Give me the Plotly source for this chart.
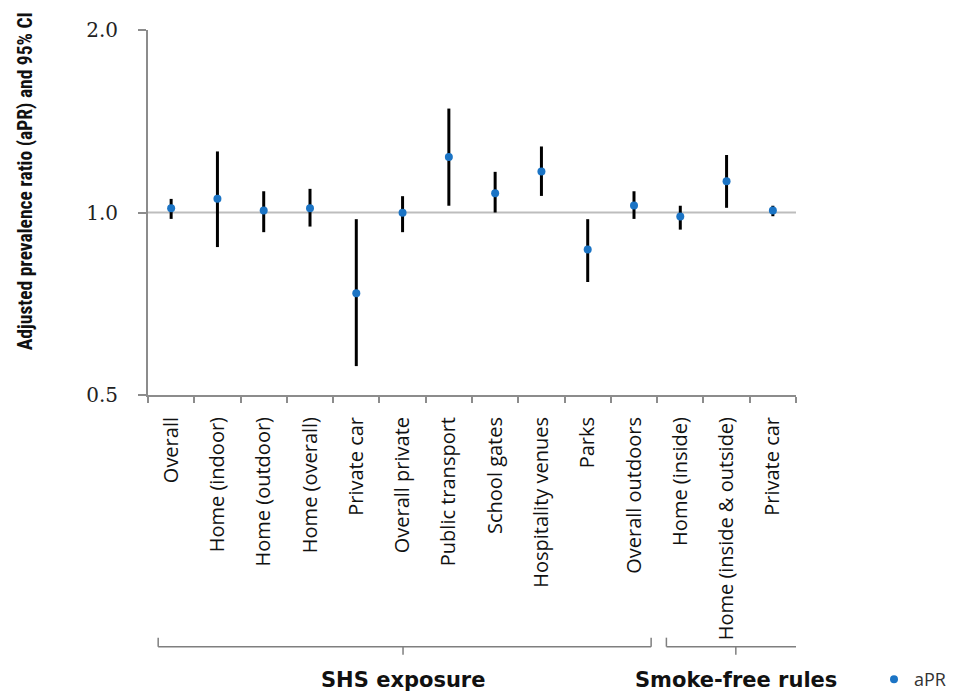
import plotly.graph_objects as go

categories = ["Overall", "Home (indoor)", "Home (outdoor)", "Home (overall)", "Private car",
              "Overall private", "Public transport", "School gates", "Hospitality venues", "Parks",
              "Overall outdoors", "Home (inside)", "Home (inside & outside)", "Private car"]
apr = [1.016, 1.054, 1.008, 1.016, 0.736, 0.999, 1.235, 1.076, 1.168, 0.869, 1.027, 0.985, 1.126, 1.008]
ci_low = [0.976, 0.877, 0.928, 0.948, 0.558, 0.928, 1.026, 1.000, 1.065, 0.768, 0.976, 0.937, 1.018, 0.986]
ci_high = [1.053, 1.261, 1.084, 1.094, 0.975, 1.064, 1.484, 1.167, 1.285, 0.975, 1.084, 1.026, 1.244, 1.026]
y_ticks = [0.5, 1.0, 2.0]
y_ticktext = ["0.5", "1.0", "2.0"]
groups = ["SHS exposure", "Smoke-free rules"]
group_start = [-0.28, 10.7]
group_end = [10.37, 13.7]
group_mid = [5.01, 12.2]

xs = list(range(len(categories)))

fig = go.Figure()
fig.add_trace(go.Scatter(
    x=xs, y=apr, mode="markers", name="aPR",
    marker=dict(color="#1b74c5", size=8),
    error_y=dict(type="data", symmetric=False,
                 array=[h - v for h, v in zip(ci_high, apr)],
                 arrayminus=[v - l for v, l in zip(apr, ci_low)],
                 color="black", thickness=3, width=0),
))

# reference line at 1.0
fig.add_shape(type="line", xref="paper", yref="y", x0=0, x1=1, y0=1.0, y1=1.0,
              line=dict(color="#bdbdbd", width=2), layer="below")

PH = 365.5
def py(p):
    return (395 - p) / PH

def pxp(p):
    return (p - 148) / 648

bracket_color = "#7f7f7f"
for g, s, e, m in zip(groups, group_start, group_end, group_mid):
    yb = py(647)
    fig.add_shape(type="line", xref="x", yref="paper", x0=s, x1=e, y0=yb, y1=yb,
                  line=dict(color=bracket_color, width=1.5))
    for xe in (s, e):
        fig.add_shape(type="line", xref="x", yref="paper", x0=xe, x1=xe, y0=yb, y1=py(638),
                      line=dict(color=bracket_color, width=1.5))
    fig.add_shape(type="line", xref="x", yref="paper", x0=m, x1=m, y0=yb, y1=py(655),
                  line=dict(color=bracket_color, width=1.5))
    fig.add_annotation(x=m, y=py(680), xref="x", yref="paper", text=g, showarrow=False,
                       xanchor="center", yanchor="middle",
                       font=dict(family="DejaVu Sans", size=21, color="#111111", weight="bold"))

fig.add_annotation(x=pxp(25), y=py(181), xref="paper", yref="paper",
                   text="Adjusted prevalence ratio (aPR) and 95% CI", showarrow=False,
                   textangle=-90, xanchor="center", yanchor="middle",
                   font=dict(family="Liberation Sans Narrow, Roboto Condensed, Roboto", size=19.5,
                             color="#111111", weight="bold"))

# the page places the figure 8px from its top-left corner, so the figure is 8px smaller
fig.update_layout(
    width=952, height=683,
    margin=dict(l=140, r=164, t=21.5, b=296, autoexpand=False),
    plot_bgcolor="white", paper_bgcolor="white",
    showlegend=True,
    legend=dict(x=pxp(874), y=py(680), xanchor="left", yanchor="middle",
                font=dict(family="Open Sans", size=18, color="#333333"),
                bgcolor="rgba(0,0,0,0)", itemwidth=30),
    xaxis=dict(
        range=[-0.5, 13.5], tickvals=xs, ticktext=categories, tickangle=-90,
        ticks="", showgrid=False, zeroline=False, automargin=False,
        showline=True, linecolor="#8c8c8c", linewidth=2,
        tickfont=dict(family="Open Sans", size=20, color="#111111"),
        ticklabelstandoff=12,
        minor=dict(tickvals=[i - 0.5 for i in range(len(categories) + 1)], ticks="outside",
                   ticklen=6, tickcolor="#8c8c8c", tickwidth=2, showgrid=False),
    ),
    yaxis=dict(
        type="log", range=[-0.30103, 0.30103], tickvals=y_ticks, ticktext=y_ticktext,
        ticks="outside", ticklen=8, tickcolor="#8c8c8c", tickwidth=2, automargin=False,
        showgrid=False, zeroline=False, showline=True, linecolor="#8c8c8c", linewidth=2,
        tickfont=dict(family="DejaVu Serif", size=20, color="#222222"),
        ticklabelstandoff=16,
    ),
)

fig.write_html("out.html")
